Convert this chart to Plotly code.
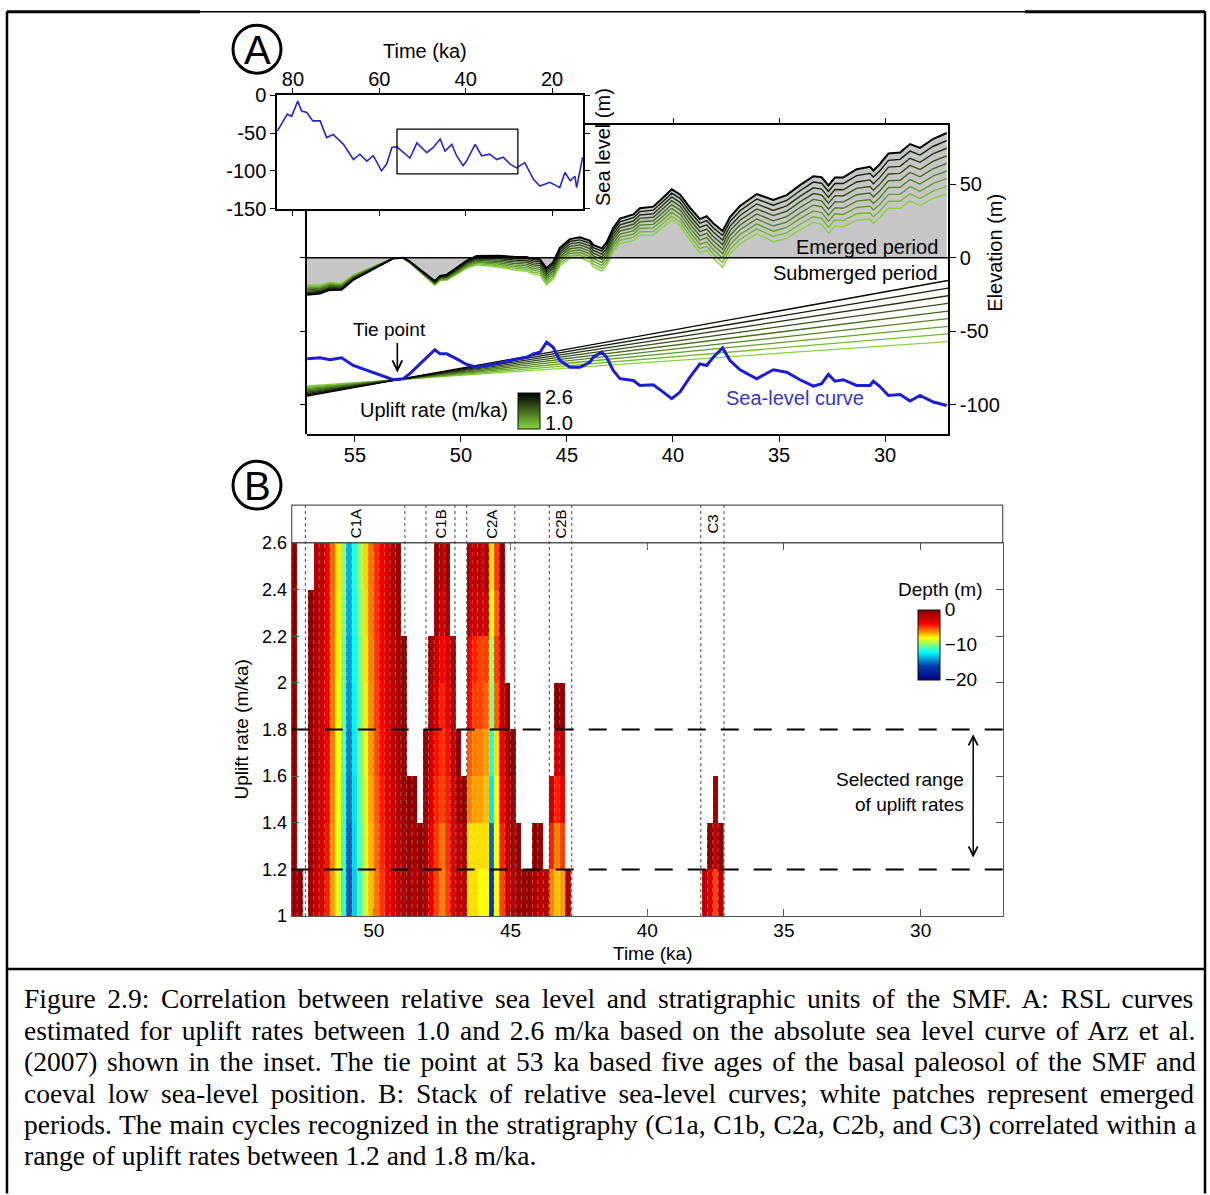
import plotly.graph_objects as go

W, H = 1210, 1195
SANS = "Liberation Sans"
SERIF = "Liberation Serif"
# vertical calibration of the rendered page (observed offset/scale of the screenshot)
Y_OFF, Y_SCALE = 9.7, 0.984


def px(x):
    return x / W


def py(y):
    return 1 - ((y - Y_OFF) / Y_SCALE) / H


# ---------------- data: inset (absolute sea level, Arz et al. 2007) ----------------
INSET_TIME_KA = [83.6, 81.3, 80.3, 78.9, 78.0, 76.8, 75.4, 73.7, 72.2, 70.7, 68.3, 66.0,
                 64.5, 62.9, 61.4, 59.5, 58.3, 57.1, 56.0, 52.9, 51.3, 49.0, 47.5, 45.9,
                 44.8, 43.2, 42.1, 40.6, 39.8, 37.8, 36.3, 34.4, 32.8, 31.3, 29.7, 28.2,
                 26.3, 24.3, 22.8, 20.5, 18.2, 17.0, 15.8, 14.7, 14.3, 12.9]
INSET_SEA_LEVEL_M = [-47, -25, -28, -8, -21, -23, -34, -34, -56, -52, -65, -85,
                     -78, -87, -80, -100, -91, -69, -68, -83, -63, -76, -69, -58,
                     -74, -65, -80, -93, -87, -65, -80, -78, -85, -82, -91, -96,
                     -89, -111, -120, -115, -122, -102, -113, -107, -122, -82]
INSET_BOX_KA = [55.9, 27.9]
INSET_BOX_M = [-104, -45]

# ---------------- data: panel A ----------------
SL_TIME_KA = [57.25, 56.65, 56.18, 55.63, 55.08, 54.45, 53.82, 53.19, 52.72, 52.41, 51.93,
              51.46, 51.23, 50.99, 50.67, 50.20, 49.73, 49.26, 48.79, 48.16, 47.53, 46.90,
              46.59, 46.27, 45.96, 45.65, 45.33, 44.86, 44.39, 43.92, 43.76, 43.36, 43.13,
              42.82, 42.50, 41.87, 41.56, 40.93, 40.46, 40.06, 39.67, 39.20, 38.73, 38.41,
              38.10, 37.66, 37.31, 36.84, 36.05, 35.27, 34.64, 34.01, 33.38, 32.99, 32.67,
              32.36, 31.97, 31.34, 30.71, 30.55, 30.24, 29.84, 29.29, 28.82, 28.35, 27.72,
              27.09]
SL_M = [-68.8, -68.1, -69.4, -68.1, -73.3, -76.7, -80.1, -83.0, -82.3, -78.9, -72.2,
        -65.4, -62.6, -65.4, -65.4, -68.8, -72.6, -74.5, -73.3, -71.7, -69.4, -67.7,
        -65.4, -64.3, -57.5, -60.9, -69.9, -74.5, -74.5, -71.1, -67.7, -64.3, -67.7,
        -76.7, -82.3, -83.5, -86.9, -86.4, -91.4, -95.9, -91.4, -81.2, -72.2, -73.3,
        -67.7, -61.3, -69.9, -76.2, -82.3, -76.2, -77.9, -83.0, -87.4, -85.7, -79.4,
        -84.0, -83.0, -86.9, -86.9, -84.0, -87.6, -93.7, -93.0, -97.5, -93.7, -98.2,
        -100.5]
TIE_POINT_KA = 53.0
TIE_POINT_M = -83.0
UPLIFT_RATES = [1.0, 1.2, 1.4, 1.6, 1.8, 2.0, 2.2, 2.4, 2.6]

# ---------------- data: panel B ----------------
RATE_ROWS = [1.1, 1.3, 1.5, 1.7, 1.9, 2.1, 2.3, 2.5]
RATE_TICKS = [1.0, 1.2, 1.4, 1.6, 1.8, 2.0, 2.2, 2.4, 2.6]
RATE_TICK_TEXT = ["1", "1.2", "1.4", "1.6", "1.8", "2", "2.2", "2.4", "2.6"]
COL_WIDTH_KA = 0.2
MAIN_START_KA = 53.0
C3_START_KA = 38.0
# depth (m) of each 0.2-ka column, listed from the 1.0-1.2 row upward (missing = emerged)
DEPTH_MAIN_COLS = [
    [-0.8, -0.7, -0.6, -0.6, -0.5, -0.5, -0.4, -0.4],
    [-0.6],
    [],
    [-1.0, -0.9, -0.8, -0.7, -0.6, -0.5, -0.4],
    [-2.2, -2.0, -1.9, -1.8, -1.7, -1.6, -1.5, -1.4],
    [-3.0, -2.8, -2.7, -2.6, -2.5, -2.4, -2.3, -2.2],
    [-4.5, -4.3, -4.1, -4.0, -3.9, -3.8, -3.7, -3.6],
    [-6.5, -6.3, -6.1, -6.0, -5.9, -5.8, -5.7, -5.6],
    [-8.5, -8.3, -8.1, -8.0, -7.9, -7.8, -7.7, -7.6],
    [-11.5, -11.2, -11.0, -10.8, -10.6, -10.4, -10.2, -10.0],
    [-15.5, -15.2, -14.8, -14.5, -14.2, -14.0, -13.8, -13.6],
    [-13.0, -12.8, -12.6, -12.4, -12.2, -12.0, -11.8, -11.6],
    [-10.8, -10.6, -10.4, -10.2, -10.0, -9.8, -9.6, -9.5],
    [-8.6, -8.4, -8.2, -8.0, -7.8, -7.6, -7.5, -7.4],
    [-7.0, -6.8, -6.6, -6.4, -6.2, -6.0, -5.9, -5.8],
    [-5.8, -5.6, -5.4, -5.2, -5.0, -4.9, -4.8, -4.7],
    [-4.8, -4.6, -4.4, -4.2, -4.0, -3.9, -3.8, -3.7],
    [-3.8, -3.6, -3.4, -3.2, -3.0, -2.9, -2.8, -2.7],
    [-2.8, -2.6, -2.4, -2.2, -2.0, -1.9, -1.8, -1.7],
    [-2.0, -1.8, -1.6, -1.4, -1.2, -1.0, -0.8, -0.6],
    [-1.4, -1.2, -1.0, -0.8, -0.6, -0.4],
    [-1.0, -0.8, -0.5],
    [-1.5, -1.2, -0.6],
    [-0.8, -0.4],
    [-1.5, -1.2, -1.0, -0.5],
    [-3.5, -3.2, -2.8, -2.5, -1.5, -1.0],
    [-5.0, -4.8, -4.5, -4.2, -3.0, -2.5, -1.0, -0.6],
    [-6.0, -5.8, -5.0, -4.8, -4.5, -4.0, -2.5, -2.0],
    [-5.0, -4.8, -4.5, -4.2, -3.5, -3.0, -1.2, -0.8],
    [-3.5, -3.2, -3.0, -2.5, -2.0, -1.5],
    [-2.0, -1.8, -1.0, -0.5],
    [-2.0, -1.5, -0.6],
    [-7.5, -7.5, -6.0, -5.5, -4.0, -3.5, -2.0, -1.5],
    [-7.5, -7.5, -6.5, -6.0, -5.0, -4.5, -2.5, -2.0],
    [-8.0, -7.5, -6.5, -6.0, -5.0, -5.0, -2.5, -2.0],
    [-8.0, -7.5, -7.0, -6.5, -5.5, -5.0, -2.5, -1.5],
    [-16.0, -15.0, -12.5, -11.5, -10.0, -9.5, -8.0, -7.5],
    [-8.0, -8.0, -8.0, -7.5, -5.5, -5.0, -5.5, -5.0],
    [-5.0, -4.5, -4.0, -3.5, -2.5, -2.0, -1.0, -0.5],
    [-2.5, -2.0, -1.8, -1.0, -0.5],
    [-2.0, -1.5, -1.0, -0.5],
    [-1.0, -0.5],
    [-0.6],
    [-0.8],
    [-1.5, -0.5],
    [-2.0, -0.8],
    [-1.8],
    [-6.0, -4.5, -2.0],
    [-7.0, -6.0, -4.5, -2.5, -0.5],
    [-6.5, -5.0, -3.5, -2.0, -0.5],
    [-1.5],
]
DEPTH_C3_COLS = [
    [-2.0],
    [-3.0, -0.5],
    [-5.0, -2.0, -1.0],
    [-2.0, -0.5],
]
CYCLE_NAMES = ["C1A", "C1B", "C2A", "C2B", "C3"]
CYCLE_START_KA = [52.50, 48.09, 46.60, 43.58, 38.04]
CYCLE_END_KA = [48.86, 47.03, 44.84, 42.76, 37.19]
SELECTED_RATES = [1.2, 1.8]

CAPTION = [
    "Figure 2.9: Correlation between relative sea level and stratigraphic units of the SMF. A: RSL curves",
    "estimated for uplift rates between 1.0 and 2.6 m/ka based on the absolute sea level curve of Arz et al.",
    "(2007) shown in the inset. The tie point at 53 ka based five ages of the basal paleosol of the SMF and",
    "coeval low sea-level position. B: Stack of relative sea-level curves; white patches represent emerged",
    "periods. The main cycles recognized in the stratigraphy (C1a, C1b, C2a, C2b, and C3) correlated within a",
    "range of uplift rates between 1.2 and 1.8 m/ka.",
]
CAPTION_WORD_SPACING = [4.7, 3.3, 2.8, 5.1, 0.7, 0]

# ---------------- axis calibration ----------------
A_X_RANGE = [57.26, 27.03]
A_Y_RANGE = [-120.1, 90.3]
INSET_X_RANGE = [83.7, 12.82]
INSET_Y_RANGE = [-150, 0]
B_X_RANGE = [53.0, 27.0]
B_Y_RANGE = [1.0, 2.6]

GREEN = (135, 212, 60)


def rate_color(r):
    f = (r - 1.0) / 1.6
    c = [round(g * (1 - f)) for g in GREEN]
    return "rgb(%d,%d,%d)" % tuple(c)


fig = go.Figure()

# inset curve
fig.add_trace(go.Scatter(x=INSET_TIME_KA, y=INSET_SEA_LEVEL_M, mode="lines",
                         line=dict(color="#2626c4", width=1.6), xaxis="x2", yaxis="y2",
                         hoverinfo="skip"))


def uplift_line(r, t):
    return TIE_POINT_M + r * (TIE_POINT_KA - t)


# RSL curves (elevation relative to sea level for each uplift rate)
rsl = {r: [uplift_line(r, t) - s for t, s in zip(SL_TIME_KA, SL_M)] for r in UPLIFT_RATES}

fig.add_trace(go.Scatter(x=SL_TIME_KA, y=rsl[UPLIFT_RATES[-1]], mode="lines", fill="tozeroy",
                         fillcolor="#c6c6c6", line=dict(width=0), xaxis="x", yaxis="y",
                         hoverinfo="skip"))
for r in UPLIFT_RATES:
    fig.add_trace(go.Scatter(x=SL_TIME_KA, y=rsl[r], mode="lines",
                             line=dict(color=rate_color(r), width=1.4 if r < 2.6 else 2.0),
                             xaxis="x", yaxis="y", hoverinfo="skip"))

# uplift straight lines through tie point
for r in UPLIFT_RATES:
    fig.add_trace(go.Scatter(x=A_X_RANGE, y=[uplift_line(r, t) for t in A_X_RANGE], mode="lines",
                             line=dict(color=rate_color(r), width=1.3), xaxis="x", yaxis="y",
                             hoverinfo="skip"))

# sea level curve (main)
fig.add_trace(go.Scatter(x=SL_TIME_KA, y=SL_M, mode="lines", line=dict(color="#1c1cd0", width=3),
                         xaxis="x", yaxis="y", hoverinfo="skip"))

# helper traces for partial frame axes of panel A
fig.add_trace(go.Scatter(x=[None], y=[None], xaxis="x5", yaxis="y", showlegend=False))
fig.add_trace(go.Scatter(x=[None], y=[None], xaxis="x", yaxis="y5", showlegend=False))

# uplift colour key
fig.add_trace(go.Scatter(
    x=[None, None], y=[None, None], mode="markers", xaxis="x", yaxis="y",
    marker=dict(color=[UPLIFT_RATES[0], UPLIFT_RATES[-1]], cmin=0.6, cmax=2.85,
                colorscale=[[0, "rgb(%d,%d,%d)" % GREEN], [1, "rgb(0,0,0)"]], showscale=True,
                colorbar=dict(x=px(518), xanchor="left", y=py(411), yanchor="middle",
                              len=36, lenmode="pixels", thickness=22, thicknessmode="pixels",
                              xpad=0, ypad=0, outlinecolor="#111", outlinewidth=1,
                              tickvals=[1.0, 2.6], ticktext=["1.0", "2.6"], ticks="",
                              tickfont=dict(size=20, family=SANS, color="black"))),
    showlegend=False, hoverinfo="skip"))

# ---------------- panel B heatmap ----------------
n_cols = round((MAIN_START_KA - (C3_START_KA - COL_WIDTH_KA * len(DEPTH_C3_COLS))) / COL_WIDTH_KA)
x_centers = [MAIN_START_KA - COL_WIDTH_KA * (k + 0.5) for k in range(n_cols)]
z = [[None] * n_cols for _ in RATE_ROWS]
for k, vals in enumerate(DEPTH_MAIN_COLS):
    for i, v in enumerate(vals):
        z[i][k] = v
k0 = round((MAIN_START_KA - C3_START_KA) / COL_WIDTH_KA)
for j, vals in enumerate(DEPTH_C3_COLS):
    for i, v in enumerate(vals):
        z[i][k0 + j] = v

fig.add_trace(go.Heatmap(
    x=x_centers, y=RATE_ROWS, z=z, zmin=-20, zmax=0, colorscale="Jet", xaxis="x3", yaxis="y3",
    hoverongaps=False,
    colorbar=dict(x=px(918), xanchor="left", y=py(645), yanchor="middle", len=70, lenmode="pixels",
                  thickness=22, thicknessmode="pixels", xpad=0, ypad=0, outlinecolor="#111",
                  outlinewidth=1, tickvals=[0, -10, -20], ticks="",
                  tickfont=dict(size=19, family=SANS, color="black"))))

# ---------------- layout ----------------
tickfont = dict(size=20, family=SANS, color="black")
common = dict(showgrid=False, zeroline=False, linecolor="black", linewidth=1.5, tickcolor="black")

layout = dict(
    width=W, height=H, margin=dict(l=0, r=0, t=0, b=0), paper_bgcolor="white",
    plot_bgcolor="rgba(0,0,0,0)", showlegend=False,
    xaxis=dict(domain=[px(307), px(948)], range=A_X_RANGE, anchor="y", showline=True, ticks="outside",
               ticklen=6, tickvals=[55, 50, 45, 40, 35, 30], tickfont=tickfont, ticklabelstandoff=-4,
               **common),
    yaxis=dict(domain=[py(434), py(124)], range=A_Y_RANGE, anchor="x", side="right", showline=True,
               ticks="outside", ticklen=6, tickvals=[50, 0, -50, -100],
               ticktext=["50", "0", "-50", "-100"], tickfont=tickfont, **common),
    xaxis5=dict(domain=[px(583), px(948)], range=[44.30, 27.03], anchor="y", side="top", showline=True,
                ticks="outside", ticklen=5, tickvals=[40, 35, 30], showticklabels=False, **common),
    yaxis5=dict(domain=[py(434), py(208)], range=[-120.1, 33.3], anchor="x", side="left", showline=True,
                ticks="outside", ticklen=5, tickvals=[0, -50, -100], showticklabels=False, **common),
    xaxis2=dict(domain=[px(277), px(583)], range=INSET_X_RANGE, anchor="y2", side="top", showline=True,
                mirror="ticks", ticks="outside", ticklen=5, tickvals=[80, 60, 40, 20], tickfont=tickfont,
                ticklabelstandoff=-6, **common),
    yaxis2=dict(domain=[py(208), py(94)], range=INSET_Y_RANGE, anchor="x2", showline=True,
                mirror="ticks", ticks="outside", ticklen=5, tickvals=[0, -50, -100, -150],
                ticktext=["0", "-50", "-100", "-150"], tickfont=tickfont, **common),
    xaxis3=dict(domain=[px(291.7), px(1002.7)], range=B_X_RANGE, anchor="y3", showline=True,
                mirror="ticks", ticks="inside", ticklen=7, tickvals=[50, 45, 40, 35, 30],
                tickfont=dict(size=19, family=SANS, color="black"), ticklabelstandoff=-3,
                showgrid=False, zeroline=False, linecolor="#555", linewidth=1.2, tickcolor="#555"),
    yaxis3=dict(domain=[py(917), py(543)], range=B_Y_RANGE, anchor="x3", showline=True,
                mirror="ticks", ticks="inside", ticklen=7, tickvals=RATE_TICKS, ticktext=RATE_TICK_TEXT,
                tickfont=dict(size=18, family=SANS, color="black"),
                showgrid=False, zeroline=False, linecolor="#555", linewidth=1.2, tickcolor="#555"),
)

shapes = []
# zero line panel A
shapes.append(dict(type="line", xref="x domain", yref="y", x0=0, x1=1, y0=0, y1=0,
                   line=dict(color="black", width=1.5)))
# inset box
shapes.append(dict(type="rect", xref="x2", yref="y2", x0=INSET_BOX_KA[0], x1=INSET_BOX_KA[1],
                   y0=INSET_BOX_M[0], y1=INSET_BOX_M[1], line=dict(color="black", width=1.3)))
# faint patch edges inside the stack (column boundaries)
for k in range(n_cols + 1):
    t = MAIN_START_KA - COL_WIDTH_KA * k
    shapes.append(dict(type="line", xref="x3", yref="y3", x0=t, x1=t, y0=B_Y_RANGE[0], y1=B_Y_RANGE[1],
                       line=dict(color="rgba(255,255,255,0.3)", width=1, dash="4px,4px")))
# panel B label strip
shapes.append(dict(type="rect", xref="x3 domain", yref="paper", x0=0, x1=1, y0=py(543), y1=py(505),
                   line=dict(color="#555", width=1.2)))
for a, b in zip(CYCLE_START_KA, CYCLE_END_KA):
    for t in (a, b):
        shapes.append(dict(type="line", xref="x3", yref="paper", x0=t, x1=t, y0=py(917), y1=py(505),
                           line=dict(color="#444", width=1, dash="3px,3px")))
for r in SELECTED_RATES:
    shapes.append(dict(type="line", xref="x3 domain", yref="y3", x0=0, x1=1, y0=r, y1=r,
                       line=dict(color="black", width=2, dash="18px,15px")))
# circled panel letters
for cy in (48, 485):
    shapes.append(dict(type="circle", xref="paper", yref="paper", x0=px(233), x1=px(281),
                       y0=py(cy + 24), y1=py(cy - 24), line=dict(color="black", width=3)))
# page frame
for xa, xb, wd in ((7, 200, 3), (200, 1025, 1.5), (1025, 1205, 3)):
    shapes.append(dict(type="line", xref="paper", yref="paper", x0=px(xa), x1=px(xb), y0=py(10.5),
                       y1=py(10.5), line=dict(color="black", width=wd)))
shapes.append(dict(type="line", xref="paper", yref="paper", x0=px(7), x1=px(7), y0=py(10), y1=py(1195),
                   line=dict(color="black", width=2.5)))
shapes.append(dict(type="line", xref="paper", yref="paper", x0=px(1205), x1=px(1205), y0=py(10),
                   y1=py(1195), line=dict(color="black", width=2.5)))
shapes.append(dict(type="line", xref="paper", yref="paper", x0=px(7), x1=px(1205), y0=py(970), y1=py(970),
                   line=dict(color="black", width=2.5)))
layout["shapes"] = shapes


def txt(x, y, s, size=20, xanchor="center", yanchor="middle", angle=0, color="black",
        family=SANS, align="center"):
    return dict(x=px(x), y=py(y), xref="paper", yref="paper", text=s, showarrow=False,
                font=dict(size=size, color=color, family=family), xanchor=xanchor, yanchor=yanchor,
                textangle=angle, align=align)


ann = [
    txt(257, 49, "A", size=40),
    txt(257, 486, "B", size=40),
    txt(425, 50, "Time (ka)", size=20),
    txt(603, 146, "Sea level (m)", size=20, angle=-90),
    txt(995, 252, "Elevation (m)", size=20, angle=-90),
    txt(940, 246, "Emerged period", size=20, xanchor="right"),
    txt(940, 272, "Submerged period", size=20, xanchor="right"),
    txt(389, 329, "Tie point", size=19),
    txt(510, 410, "Uplift rate (m/ka)", size=20, xanchor="right"),
    txt(795, 398, "Sea-level curve", size=20, color="#3535c0"),
    txt(940, 590, "Depth (m)", size=19),
    txt(966, 793, "Selected range<br>of uplift rates", size=19, xanchor="right", align="right"),
    txt(242, 730, "Uplift rate (m/ka)", size=19, angle=-90),
    txt(653, 955, "Time (ka)", size=19),
    dict(x=TIE_POINT_KA, y=-78, xref="x", yref="y", ax=0, ay=-31, text="", showarrow=True,
         arrowhead=5, arrowsize=1.2, arrowwidth=1.6, arrowcolor="black"),
    dict(x=28.08, y=1.78, xref="x3", yref="y3", ax=28.08, ay=1.245, axref="x3", ayref="y3", text="",
         showarrow=True, arrowhead=5, startarrowhead=5, arrowside="end+start", arrowsize=1.2,
         startarrowsize=1.2, arrowwidth=1.5, arrowcolor="black"),
]
for name, a, b in zip(CYCLE_NAMES, CYCLE_START_KA, CYCLE_END_KA):
    ann.append(dict(x=(a + b) / 2, y=py(524), xref="x3", yref="paper", text=name, showarrow=False,
                    textangle=-90, font=dict(size=15, family=SANS, color="black")))
for i, (line, ws) in enumerate(zip(CAPTION, CAPTION_WORD_SPACING)):
    ann.append(txt(22, 1000 + 31.5 * i, '<span style="word-spacing:%.1fpx">%s</span>' % (ws, line),
                   size=27.5, xanchor="left", family=SERIF))
layout["annotations"] = ann

fig.update_layout(**layout)
fig.write_html("out.html",
               post_script="document.body.style.margin='0';document.documentElement.style.overflow='hidden';")
